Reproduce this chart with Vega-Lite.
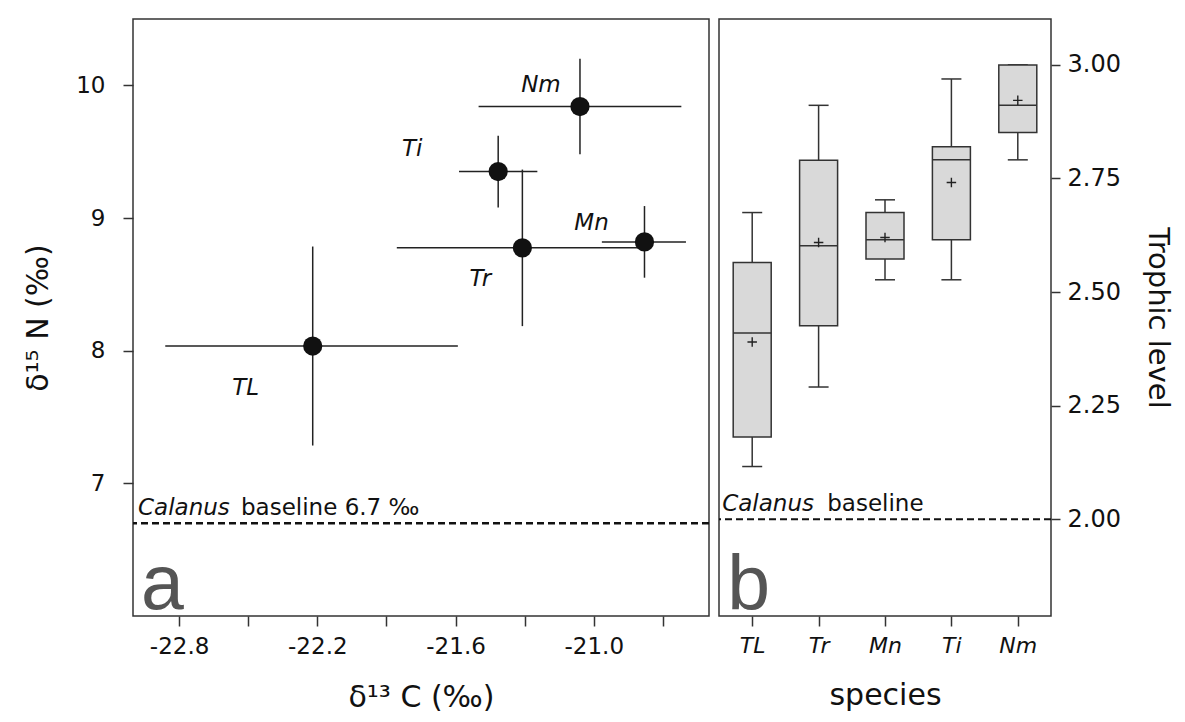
{
  "$schema": "https://vega.github.io/schema/vega-lite/v6.json",
  "background": "white",
  "padding": {"left": 22, "top": 18, "right": 6, "bottom": 0},
  "spacing": 6,
  "datasets": {
    "isotopes": [
      {"species": "Nm", "d13C": -21.06, "d13C_lo": -21.50, "d13C_hi": -20.62, "d15N": 9.84, "d15N_lo": 9.48, "d15N_hi": 10.20},
      {"species": "Ti", "d13C": -21.415, "d13C_lo": -21.585, "d13C_hi": -21.245, "d15N": 9.35, "d15N_lo": 9.08, "d15N_hi": 9.62},
      {"species": "Tr", "d13C": -21.31, "d13C_lo": -21.855, "d13C_hi": -20.785, "d15N": 8.775, "d15N_lo": 8.185, "d15N_hi": 9.365},
      {"species": "Mn", "d13C": -20.78, "d13C_lo": -20.965, "d13C_hi": -20.60, "d15N": 8.82, "d15N_lo": 8.55, "d15N_hi": 9.09},
      {"species": "TL", "d13C": -22.22, "d13C_lo": -22.86, "d13C_hi": -21.59, "d15N": 8.035, "d15N_lo": 7.285, "d15N_hi": 8.785}
    ],
    "trophic": [
      {"species": "TL", "lo": 2.116, "q1": 2.181, "median": 2.410, "q3": 2.565, "hi": 2.675, "mean": 2.390},
      {"species": "Tr", "lo": 2.291, "q1": 2.426, "median": 2.602, "q3": 2.790, "hi": 2.911, "mean": 2.609},
      {"species": "Mn", "lo": 2.527, "q1": 2.573, "median": 2.615, "q3": 2.675, "hi": 2.703, "mean": 2.620},
      {"species": "Ti", "lo": 2.527, "q1": 2.615, "median": 2.791, "q3": 2.820, "hi": 2.969, "mean": 2.741},
      {"species": "Nm", "lo": 2.791, "q1": 2.851, "median": 2.911, "q3": 3.000, "hi": 3.000, "mean": 2.922}
    ],
    "baselineN": [{"d15N": 6.7, "xmin": -23.0, "ymin": 6.0}],
    "baselineTL": [{"tl": 2.0, "first": "TL", "ymin": 1.787}]
  },
  "config": {
    "view": {"stroke": "#333333", "strokeWidth": 1.5},
    "axis": {
      "domain": false,
      "grid": false,
      "tickColor": "#333333",
      "tickWidth": 1.5,
      "tickSize": 10,
      "labelFont": "DejaVu Sans",
      "labelFontSize": 23,
      "labelColor": "#111111",
      "titleFont": "DejaVu Sans",
      "titleFontSize": 30,
      "titleFontWeight": "normal",
      "titleColor": "#111111"
    },
    "text": {"font": "DejaVu Sans", "color": "#111111"}
  },
  "hconcat": [
    {
      "width": 576,
      "height": 597,
      "layer": [
        {
          "data": {"name": "baselineN"},
          "mark": {"type": "rule", "strokeDash": [7, 4], "strokeWidth": 2.5, "color": "#111111"},
          "encoding": {
            "y": {"field": "d15N", "type": "quantitative", "scale": {"domain": [6.0, 10.5], "nice": false, "zero": false}}
          }
        },
        {
          "data": {"name": "isotopes"},
          "mark": {"type": "rule", "strokeWidth": 1.5, "color": "#222222"},
          "encoding": {
            "x": {"field": "d13C_lo", "type": "quantitative", "scale": {"domain": [-23.0, -20.5], "nice": false, "zero": false},
              "axis": {
                "title": "δ¹³ C (‰)",
                "values": [-22.8, -22.5, -22.2, -21.9, -21.6, -21.3, -21.0, -20.7],
                "labelExpr": "round(datum.value * 10 / 3) % 2 == 0 ? '-' + format(abs(datum.value), '.1f') : ''",
                "labelPadding": 9,
                "titlePadding": 24
              }},
            "x2": {"field": "d13C_hi"},
            "y": {"field": "d15N", "type": "quantitative",
              "axis": {"title": "δ¹⁵ N (‰)", "values": [7, 8, 9, 10], "format": "d", "labelPadding": 18, "titlePadding": 22}}
          }
        },
        {
          "data": {"name": "isotopes"},
          "mark": {"type": "rule", "strokeWidth": 1.5, "color": "#222222"},
          "encoding": {
            "x": {"field": "d13C", "type": "quantitative"},
            "y": {"field": "d15N_lo", "type": "quantitative"},
            "y2": {"field": "d15N_hi"}
          }
        },
        {
          "data": {"name": "isotopes"},
          "mark": {"type": "point", "shape": "circle", "filled": true, "size": 370, "color": "#111111", "opacity": 1},
          "encoding": {
            "x": {"field": "d13C", "type": "quantitative"},
            "y": {"field": "d15N", "type": "quantitative"}
          }
        },
        {
          "data": {"name": "isotopes"},
          "transform": [{"filter": "datum.species == 'Nm'"}],
          "mark": {"type": "text", "fontStyle": "italic", "fontSize": 23, "dx": -39, "dy": -22},
          "encoding": {"x": {"field": "d13C", "type": "quantitative"}, "y": {"field": "d15N", "type": "quantitative"}, "text": {"field": "species"}}
        },
        {
          "data": {"name": "isotopes"},
          "transform": [{"filter": "datum.species == 'Ti'"}],
          "mark": {"type": "text", "fontStyle": "italic", "fontSize": 23, "dx": -86, "dy": -23},
          "encoding": {"x": {"field": "d13C", "type": "quantitative"}, "y": {"field": "d15N", "type": "quantitative"}, "text": {"field": "species"}}
        },
        {
          "data": {"name": "isotopes"},
          "transform": [{"filter": "datum.species == 'Mn'"}],
          "mark": {"type": "text", "fontStyle": "italic", "fontSize": 23, "dx": -53, "dy": -19},
          "encoding": {"x": {"field": "d13C", "type": "quantitative"}, "y": {"field": "d15N", "type": "quantitative"}, "text": {"field": "species"}}
        },
        {
          "data": {"name": "isotopes"},
          "transform": [{"filter": "datum.species == 'Tr'"}],
          "mark": {"type": "text", "fontStyle": "italic", "fontSize": 23, "dx": -42, "dy": 31},
          "encoding": {"x": {"field": "d13C", "type": "quantitative"}, "y": {"field": "d15N", "type": "quantitative"}, "text": {"field": "species"}}
        },
        {
          "data": {"name": "isotopes"},
          "transform": [{"filter": "datum.species == 'TL'"}],
          "mark": {"type": "text", "fontStyle": "italic", "fontSize": 23, "dx": -67, "dy": 42},
          "encoding": {"x": {"field": "d13C", "type": "quantitative"}, "y": {"field": "d15N", "type": "quantitative"}, "text": {"field": "species"}}
        },
        {
          "data": {"name": "baselineN"},
          "mark": {"type": "text", "text": "Calanus", "fontStyle": "italic", "fontSize": 23, "align": "left", "baseline": "alphabetic", "dx": 5, "dy": -8},
          "encoding": {"x": {"field": "xmin", "type": "quantitative"}, "y": {"field": "d15N", "type": "quantitative"}}
        },
        {
          "data": {"name": "baselineN"},
          "mark": {"type": "text", "text": "baseline 6.7 ‰", "fontSize": 23, "align": "left", "baseline": "alphabetic", "dx": 108, "dy": -8},
          "encoding": {"x": {"field": "xmin", "type": "quantitative"}, "y": {"field": "d15N", "type": "quantitative"}}
        },
        {
          "data": {"name": "baselineN"},
          "mark": {"type": "text", "text": "a", "font": "Liberation Sans", "fontSize": 77, "color": "#555555", "align": "left", "baseline": "alphabetic", "dx": 8, "dy": -7},
          "encoding": {"x": {"field": "xmin", "type": "quantitative"}, "y": {"field": "ymin", "type": "quantitative"}}
        }
      ]
    },
    {
      "width": 332,
      "height": 597,
      "layer": [
        {
          "data": {"name": "baselineTL"},
          "mark": {"type": "rule", "strokeDash": [7, 4], "strokeWidth": 2, "color": "#111111"},
          "encoding": {
            "y": {"field": "tl", "type": "quantitative", "scale": {"domain": [1.787, 3.101], "nice": false, "zero": false}}
          }
        },
        {
          "data": {"name": "trophic"},
          "mark": {"type": "rule", "strokeWidth": 1.5, "color": "#333333"},
          "encoding": {
            "x": {"field": "species", "type": "nominal",
              "scale": {"type": "point", "padding": 0.5, "domain": ["TL", "Tr", "Mn", "Ti", "Nm"]},
              "axis": {"title": "species", "labelAngle": 0, "labelFontStyle": "italic", "labelFontSize": 22, "labelPadding": 9, "titlePadding": 24}},
            "y": {"field": "lo", "type": "quantitative",
              "axis": {"orient": "right", "title": "Trophic level", "titleFontSize": 29, "values": [2.0, 2.25, 2.5, 2.75, 3.0], "format": ".2f", "labelFontSize": 24, "labelPadding": 7, "titlePadding": 22, "tickSize": 9}},
            "y2": {"field": "hi"}
          }
        },
        {
          "data": {"name": "trophic"},
          "mark": {"type": "tick", "orient": "horizontal", "size": 20, "thickness": 1.5, "color": "#333333", "opacity": 1},
          "encoding": {
            "x": {"field": "species", "type": "nominal"},
            "y": {"field": "lo", "type": "quantitative"}
          }
        },
        {
          "data": {"name": "trophic"},
          "mark": {"type": "tick", "orient": "horizontal", "size": 20, "thickness": 1.5, "color": "#333333", "opacity": 1},
          "encoding": {
            "x": {"field": "species", "type": "nominal"},
            "y": {"field": "hi", "type": "quantitative"}
          }
        },
        {
          "data": {"name": "trophic"},
          "mark": {"type": "bar", "size": 38, "fill": "#d9d9d9", "stroke": "#333333", "strokeWidth": 1.5},
          "encoding": {
            "x": {"field": "species", "type": "nominal"},
            "y": {"field": "q1", "type": "quantitative"},
            "y2": {"field": "q3"}
          }
        },
        {
          "data": {"name": "trophic"},
          "mark": {"type": "tick", "orient": "horizontal", "size": 38, "thickness": 1.5, "color": "#333333", "opacity": 1},
          "encoding": {
            "x": {"field": "species", "type": "nominal"},
            "y": {"field": "median", "type": "quantitative"}
          }
        },
        {
          "data": {"name": "trophic"},
          "mark": {"type": "point", "shape": "M-1,0H1M0,-1V1", "size": 90, "filled": false, "stroke": "#222222", "strokeWidth": 1.4, "opacity": 1},
          "encoding": {
            "x": {"field": "species", "type": "nominal"},
            "y": {"field": "mean", "type": "quantitative"}
          }
        },
        {
          "data": {"name": "baselineTL"},
          "mark": {"type": "text", "text": "Calanus", "fontStyle": "italic", "fontSize": 23, "align": "left", "baseline": "alphabetic", "dx": -30, "dy": -8},
          "encoding": {"x": {"field": "first", "type": "nominal"}, "y": {"field": "tl", "type": "quantitative"}}
        },
        {
          "data": {"name": "baselineTL"},
          "mark": {"type": "text", "text": "baseline", "fontSize": 23, "align": "left", "baseline": "alphabetic", "dx": 75, "dy": -8},
          "encoding": {"x": {"field": "first", "type": "nominal"}, "y": {"field": "tl", "type": "quantitative"}}
        },
        {
          "data": {"name": "baselineTL"},
          "mark": {"type": "text", "text": "b", "font": "Liberation Sans", "fontSize": 77, "color": "#555555", "align": "left", "baseline": "alphabetic", "dx": -25, "dy": -6},
          "encoding": {"x": {"field": "first", "type": "nominal"}, "y": {"field": "ymin", "type": "quantitative"}}
        }
      ]
    }
  ]
}
